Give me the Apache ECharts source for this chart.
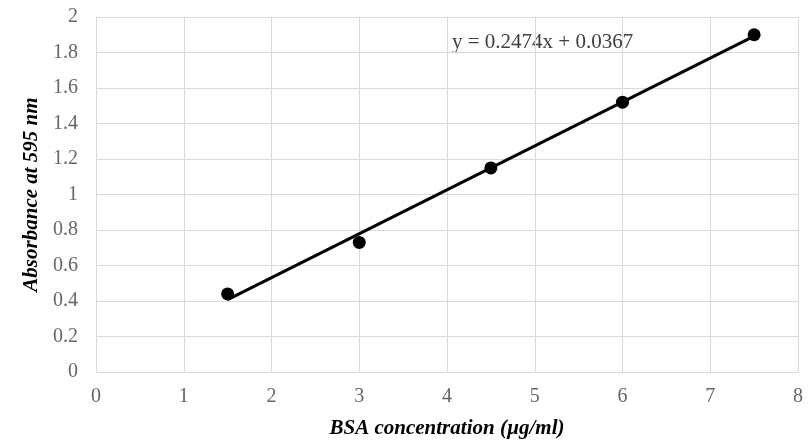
<!DOCTYPE html>
<html><head><meta charset="utf-8">
<script src="https://cdn.jsdelivr.net/npm/echarts@6/dist/echarts.min.js"></script>
<style>html,body{margin:0;padding:0;background:#fff}#c{width:812px;height:446px}</style>
</head><body><div id="c"></div>
<script>
const concentrations = [1.5, 3, 4.5, 6, 7.5];
const absorbances = [0.44, 0.73, 1.15, 1.52, 1.90];
const slope = 0.2474;
const intercept = 0.0367;
const trendX = [1.5, 7.5];
const equationText = 'y = 0.2474x + 0.0367';
const xTitle = 'BSA concentration (µg/ml)';
const yTitle = 'Absorbance at 595 nm';

const chart = echarts.init(document.getElementById('c'));
const serif = '"Liberation Serif", "DejaVu Serif", serif';
chart.setOption({
  animation: false,
  grid: {left: 96, right: 14, top: 17, bottom: 74},
  xAxis: {
    type: 'value', min: 0, max: 8, interval: 1,
    name: xTitle, nameLocation: 'middle', nameGap: 46,
    nameTextStyle: {fontFamily: serif, fontSize: 21, fontWeight: 'bold', fontStyle: 'italic', color: '#000'},
    axisLine: {show: true, lineStyle: {color: '#d9d9d9', width: 1}},
    axisTick: {show: false},
    splitLine: {show: true, lineStyle: {color: '#d9d9d9', width: 1}},
    axisLabel: {fontFamily: serif, fontSize: 20, color: '#666666', margin: 15}
  },
  yAxis: {
    type: 'value', min: 0, max: 2, interval: 0.2,
    name: yTitle, nameLocation: 'middle', nameGap: 50,
    nameTextStyle: {fontFamily: serif, fontSize: 21, fontWeight: 'bold', fontStyle: 'italic', color: '#000'},
    axisLine: {show: true, lineStyle: {color: '#d9d9d9', width: 1}},
    axisTick: {show: false},
    splitLine: {show: true, lineStyle: {color: '#d9d9d9', width: 1}},
    axisLabel: {fontFamily: serif, fontSize: 20, color: '#666666', margin: 18,
      formatter: v => String(Math.round(v * 10) / 10)}
  },
  series: [
    {
      type: 'line',
      data: trendX.map(x => [x, slope * x + intercept]),
      showSymbol: false, symbol: 'none',
      lineStyle: {color: '#000', width: 3},
      z: 2
    },
    {
      type: 'scatter',
      data: concentrations.map((x, i) => [x, absorbances[i]]),
      symbol: 'circle', symbolSize: 13,
      itemStyle: {color: '#000', opacity: 1},
      z: 3
    }
  ],
  graphic: [{
    type: 'text', left: 452, top: 32,
    style: {text: equationText, fontFamily: serif, fontSize: 21, fill: '#404040'}
  }]
});
</script></body></html>
